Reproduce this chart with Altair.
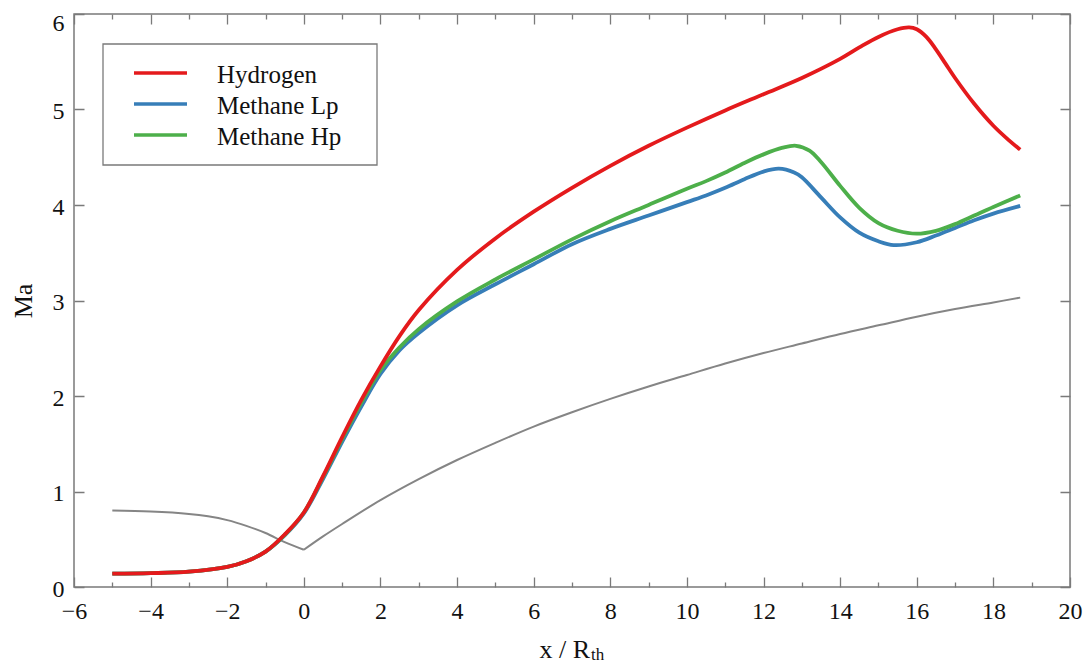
import altair as alt
import pandas as pd

# ---------------- data ----------------
series_names = ["Hydrogen", "Methane Lp", "Methane Hp"]
series_colors = ["#E41A1C", "#377EB8", "#4DAF4A"]

hydrogen_x = [-5, -4, -3, -2, -1.5, -1, -0.5, 0, 0.5, 1, 1.5, 2, 2.5, 3, 4, 5, 6, 7, 8, 9, 10, 11, 12, 13,
              14, 14.5, 15, 15.5, 15.8, 16.0, 16.25, 16.5, 16.75, 17, 17.5, 18, 18.4, 18.7]
hydrogen_y = [0.14, 0.145, 0.16, 0.21, 0.27, 0.37, 0.55, 0.78, 1.16, 1.57, 1.96, 2.31, 2.63, 2.90, 3.32, 3.65,
              3.93, 4.18, 4.41, 4.62, 4.81, 4.99, 5.16, 5.33, 5.53, 5.65, 5.76, 5.84, 5.86, 5.84, 5.76, 5.63,
              5.48, 5.33, 5.06, 4.83, 4.68, 4.58]

methane_lp_x = [-5, -4, -3, -2, -1.5, -1, -0.5, 0, 0.5, 1, 1.5, 2, 2.5, 3, 4, 5, 6, 7, 8, 9, 10, 10.5, 11, 11.5,
                12, 12.4, 12.8, 13, 13.5, 14, 14.5, 15, 15.4, 16, 16.5, 17, 17.5, 18, 18.7]
methane_lp_y = [0.14, 0.145, 0.16, 0.21, 0.27, 0.37, 0.54, 0.77, 1.13, 1.52, 1.89, 2.23, 2.48, 2.66, 2.95, 3.17,
                3.38, 3.59, 3.75, 3.89, 4.03, 4.10, 4.18, 4.27, 4.35, 4.38, 4.34, 4.29, 4.08, 3.87, 3.71, 3.62,
                3.58, 3.61, 3.68, 3.76, 3.84, 3.91, 3.99]

methane_hp_x = [-5, -4, -3, -2, -1.5, -1, -0.5, 0, 0.5, 1, 1.5, 2, 2.5, 3, 4, 5, 6, 7, 8, 9, 10, 10.5, 11, 11.5,
                12, 12.5, 12.85, 13.2, 13.5, 14, 14.5, 15, 15.5, 16, 16.5, 17, 17.5, 18, 18.7]
methane_hp_y = [0.14, 0.145, 0.16, 0.21, 0.27, 0.37, 0.545, 0.78, 1.15, 1.55, 1.93, 2.27, 2.51, 2.70, 2.99, 3.22,
                3.43, 3.64, 3.83, 4.00, 4.17, 4.25, 4.34, 4.44, 4.53, 4.60, 4.62, 4.57, 4.45, 4.20, 3.97, 3.81,
                3.73, 3.70, 3.73, 3.80, 3.89, 3.98, 4.10]

gray_x = [-5, -4, -3, -2.5, -2, -1.5, -1, -0.5, 0, 0.5, 1, 2, 3, 4, 5, 6, 7, 8, 9, 10, 11, 12, 13, 14, 15, 16,
          17, 18, 18.7]
gray_y = [0.80, 0.79, 0.765, 0.74, 0.70, 0.64, 0.565, 0.47, 0.39, 0.53, 0.66, 0.91, 1.13, 1.33, 1.51, 1.68,
          1.83, 1.97, 2.10, 2.22, 2.34, 2.45, 2.55, 2.65, 2.74, 2.83, 2.91, 2.98, 3.03]

x_tick_values = list(range(-6, 21))
y_tick_values = [i / 2 for i in range(0, 13)]

x_title = "x / R"
x_title_sub = "th"
y_title = "Ma"

# ---------------- tables ----------------
rows = []
# draw order: Methane Lp, Methane Hp, Hydrogen (red on top)
for name, xs, ys in [(series_names[1], methane_lp_x, methane_lp_y),
                     (series_names[2], methane_hp_x, methane_hp_y),
                     (series_names[0], hydrogen_x, hydrogen_y)]:
    for xv, yv in zip(xs, ys):
        rows.append({"series": name, "x": xv, "Ma": yv})
df = pd.DataFrame(rows)

grows = []
for xv, yv in zip(gray_x, gray_y):
    if xv <= 0:
        grows.append({"seg": "a", "x": xv, "Ma": yv})
    if xv >= 0:
        grows.append({"seg": "b", "x": xv, "Ma": yv})
gdf = pd.DataFrame(grows)

one = pd.DataFrame({"k": [0]})

# ---------------- styling ----------------
W, H = 996, 573
FRAME = "#7a7a7a"
FONT = "Liberation Serif"
TXT = "#111111"

x_scale = alt.Scale(domain=[-6, 20], nice=False, zero=False)
y_scale = alt.Scale(domain=[0, 6], nice=False, zero=False)

x_axis = alt.Axis(
    values=x_tick_values, title=None, domain=False, ticks=False, tickSize=0, format="d",
    grid=True, gridColor=FRAME, gridWidth=1.3, gridOpacity=1,
    gridDash={"condition": {"test": "datum.value % 2 === 0", "value": [10, H - 20, 10, 3000]},
              "value": [5, H - 10, 5, 3000]},
    labelExpr="datum.value % 2 === 0 ? datum.label : ''",
    labelFont=FONT, labelFontSize=24, labelColor=TXT, labelPadding=12,
    labelFlush=False, labelOverlap=False, labelBound=False,
)
y_axis = alt.Axis(
    values=y_tick_values, title=None, domain=False, ticks=False, tickSize=0, format="d",
    grid=True, gridColor=FRAME, gridWidth=1.3, gridOpacity=1,
    gridDash={"condition": {"test": "datum.value % 1 === 0", "value": [10, W - 20, 10, 3000]},
              "value": [5, W - 10, 5, 3000]},
    labelExpr="datum.value % 1 === 0 ? datum.label : ''",
    labelFont=FONT, labelFontSize=24, labelColor=TXT, labelPadding=10,
    labelOffset={"condition": {"test": "datum.value === 6", "value": 9}, "value": 2},
    labelFlush=False, labelOverlap=False, labelBound=False,
)

gray_layer = alt.Chart(gdf).mark_line(color="#858585", strokeWidth=2, interpolate="catmull-rom").encode(
    x=alt.X("x:Q", scale=x_scale, axis=x_axis),
    y=alt.Y("Ma:Q", scale=y_scale, axis=y_axis),
    detail="seg:N",
)

lines_layer = alt.Chart(df).mark_line(strokeWidth=3.8, interpolate="catmull-rom").encode(
    x=alt.X("x:Q", scale=x_scale, axis=x_axis),
    y=alt.Y("Ma:Q", scale=y_scale, axis=y_axis),
    color=alt.Color("series:N", scale=alt.Scale(domain=series_names, range=series_colors), legend=None),
)

# ---------------- legend (drawn box) ----------------
LX0, LX1, LY0, LY1 = 29, 303, 30, 151
legend_box = alt.Chart(one).mark_rect(fill="white", stroke=FRAME, strokeWidth=1.3).encode(
    x=alt.value(LX0), x2=alt.value(LX1), y=alt.value(LY0), y2=alt.value(LY1)
)
legend_layers = []
for i, (name, col) in enumerate(zip(series_names, series_colors)):
    ry = 59 + 31 * i
    legend_layers.append(
        alt.Chart(one).mark_rule(strokeWidth=3.5).encode(
            x=alt.value(60), x2=alt.value(113), y=alt.value(ry), color=alt.value(col)
        )
    )
    legend_layers.append(
        alt.Chart(one).mark_text(font=FONT, fontSize=25, align="left", baseline="alphabetic", color=TXT).encode(
            x=alt.value(143), y=alt.value(ry + 10), text=alt.value(name)
        )
    )

# ---------------- axis titles ----------------
xt = alt.Chart(one).mark_text(font=FONT, fontSize=26, align="right", baseline="alphabetic", color=TXT).encode(
    x=alt.value(516), y=alt.value(644), text=alt.value(x_title)
)
xt_sub = alt.Chart(one).mark_text(font=FONT, fontSize=17, align="left", baseline="alphabetic", color=TXT).encode(
    x=alt.value(517), y=alt.value(646), text=alt.value(x_title_sub)
)
yt = alt.Chart(one).mark_text(font=FONT, fontSize=26, align="center", baseline="alphabetic", angle=270,
                              color=TXT).encode(
    x=alt.value(-42), y=alt.value(287), text=alt.value(y_title)
)

chart = alt.layer(
    gray_layer, lines_layer, legend_box, *legend_layers, xt, xt_sub, yt
).properties(
    width=W, height=H,
    autosize=alt.AutoSizeParams(type="none"),
    padding={"left": 74, "top": 14, "right": 13, "bottom": 79},
).configure_view(
    stroke=FRAME, strokeWidth=1.5
).configure_axis(
    labelFont=FONT, labelFontSize=24, labelColor=TXT
)

chart.save("out.html", embed_options={"renderer": "svg", "actions": False})
